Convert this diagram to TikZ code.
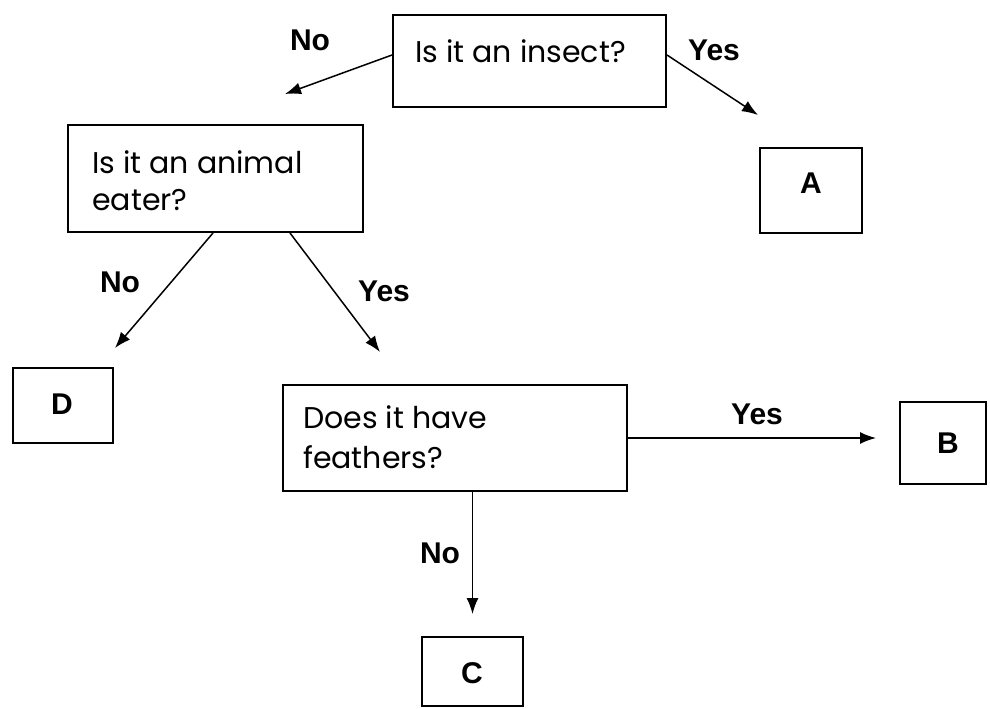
\documentclass[tikz,border=0pt]{standalone}
\usepackage{fontspec}
\setmainfont{Poppins}
\newfontfamily\lblfont{Liberation Sans}
\usetikzlibrary{arrows.meta}
\begin{document}
\begin{tikzpicture}[x=1pt,y=-1pt,
  box/.style={draw, line width=2pt, inner sep=0pt},
  qtext/.style={anchor=base west, inner sep=0pt, font=\fontsize{30}{37}\selectfont},
  lbl/.style={inner sep=0pt, font=\lblfont\bfseries\fontsize{30}{32}\selectfont},
  arr/.style={line width=1.5pt, -{Latex[length=16pt,width=12pt]}}]
\useasboundingbox (0,0) rectangle (990,709);
% boxes
\node[box, minimum width=273pt, minimum height=92pt] (I) at (529.5,61) {};
\node[box, minimum width=295pt, minimum height=107pt] (E) at (215.5,178.5) {};
\node[box, minimum width=102pt, minimum height=85pt] (A) at (811,190.5) {};
\node[box, minimum width=100pt, minimum height=75pt] (D) at (63,405.5) {};
\node[box, minimum width=344pt, minimum height=106pt] (F) at (455,438) {};
\node[box, minimum width=86pt, minimum height=82pt] (B) at (943,443) {};
\node[box, minimum width=101pt, minimum height=69pt] (C) at (472.5,671.5) {};
% texts
\node[qtext] (It) at (415,63) {Is it an insect?};
\node[qtext] (Et1) at (92,173) {Is it an animal};
\node[qtext] (Et2) at (92,210) {eater?};
\node[qtext] (Ft1) at (303,428) {Does it have};
\node[qtext] (Ft2) at (303,468) {feathers?};
\node[lbl] (Al) at (811,183) {A};
\node[lbl] (Bl) at (948,443) {B};
\node[lbl] (Cl) at (472,673) {C};
\node[lbl] (Dl) at (62,404) {D};
% arrow ends
\coordinate (tNo1) at (285,94);
\coordinate (tA) at (758,115);
\coordinate (tD) at (115,348);
\coordinate (tF) at (380,352);
% arrows
\draw[arr] ([yshift=6pt]I.west) -- (tNo1);
\draw[arr] ([yshift=6pt]I.east) -- (tA);
\draw[arr] ([xshift=-2.5pt]E.south) -- (tD);
\draw[arr] ([xshift=74.5pt]E.south) -- (tF);
\draw[arr, shorten >=23pt] (F.east) -- (F.east -| B.west);
\draw[arr, shorten >=22pt] (C.north |- F.south) -- (C.north);
% labels
\node[lbl] (l1) at (310,40) {No};
\node[lbl] (l2) at (714,50) {Yes};
\node[lbl] (l3) at (120,282) {No};
\node[lbl] (l4) at (384,291) {Yes};
\node[lbl] (l5) at (757,414) {Yes};
\node[lbl] (l6) at (440,553) {No};
\end{tikzpicture}
\end{document}
